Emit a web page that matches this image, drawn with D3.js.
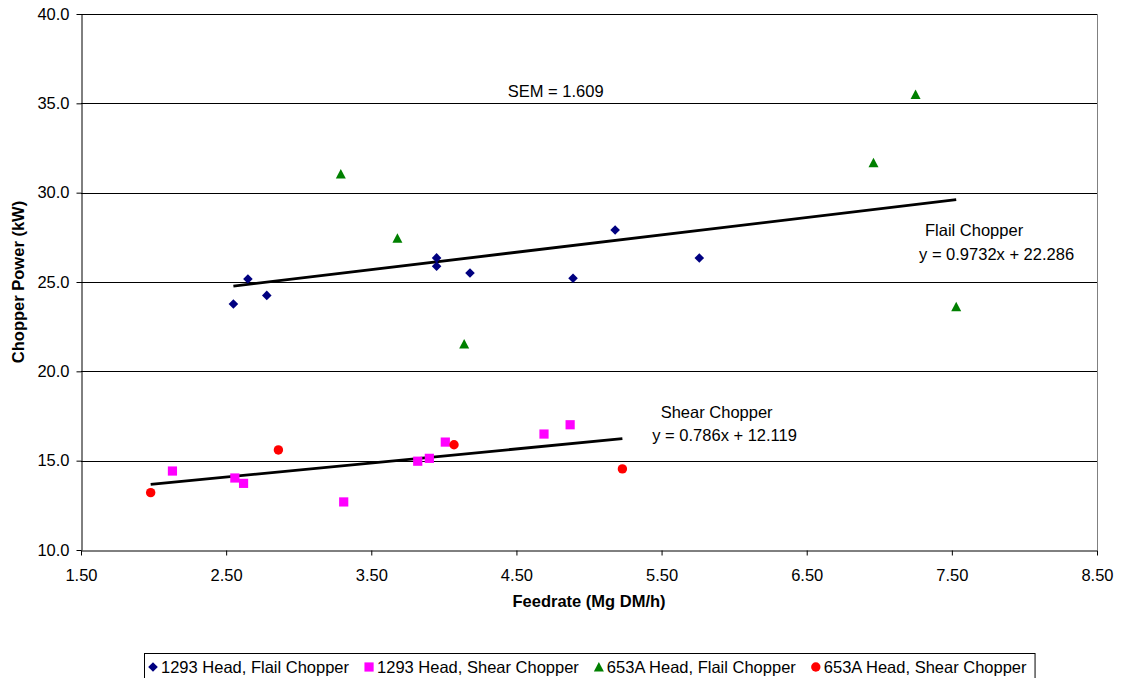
<!DOCTYPE html>
<html>
<head>
<meta charset="utf-8">
<script src="https://cdn.jsdelivr.net/npm/d3@7"></script>
<style>
	body { margin: 0; background: #fff; }
	svg { display: block; font-family: "Liberation Sans", Arial, sans-serif; }
	.axis text { font-size: 16.5px; fill: #000; }
	.axis path, .axis line { stroke: #000; }
</style>
</head>
<body>
<div id="chart"></div>
<script>
// values: [feedrate, power]
let head1293Flail = [[2.55, 23.77], [2.65, 25.17], [2.78, 24.25], [3.95, 26.35], [3.95, 25.88], [4.18, 25.5], [4.89, 25.21], [5.18, 27.91], [5.76, 26.34]];
let head1293Shear = [[2.13, 14.42], [2.56, 14.03], [2.62, 13.73], [3.31, 12.69], [3.82, 14.97], [3.9, 15.13], [4.01, 16.04], [4.69, 16.49], [4.87, 17.01]];
let head653AFlail = [[3.29, 31.05], [3.68, 27.45], [4.14, 21.53], [6.96, 31.68], [7.25, 35.5], [7.53, 23.62]];
let head653AShear = [[1.98, 13.21], [2.86, 15.6], [4.07, 15.89], [5.23, 14.54]];

let seriesNames = ["1293 Head, Flail Chopper", "1293 Head, Shear Chopper", "653A Head, Flail Chopper", "653A Head, Shear Chopper"];
let seriesColors = ["#000080", "#ff00ff", "#008000", "#ff0000"];
let seriesShapes = ["diamond", "square", "triangle", "circle"];

let xTicks = [1.5, 2.5, 3.5, 4.5, 5.5, 6.5, 7.5, 8.5];
let yTicks = [10, 15, 20, 25, 30, 35, 40];

// trend line coefficients as printed on the chart
let flailFit = { slope: 0.9732, intercept: 22.286 };
let shearFit = { slope: 0.786, intercept: 12.119 };

// [x, y, text] in data units
let annotations = [
	[4.44, 35.35, "SEM = 1.609"],
	[7.315, 27.57, "Flail Chopper"],
	[7.274, 26.23, "y = 0.9732x + 22.286"],
	[5.494, 17.37, "Shear Chopper"],
	[5.436, 16.12, "y = 0.786x + 12.119"],
];

window.addEventListener("DOMContentLoaded", (event) => {
	let width = 1124,
		height = 678;
	let margin = { top: 14, right: 27, bottom: 128, left: 81 };
	let fontSize = "16.5px";

	let svg = d3.select("#chart").append("svg").attr("width", width).attr("height", height);

	let x = d3
		.scaleLinear()
		.domain([1.5, 8.5])
		.range([margin.left, width - margin.right]);
	let y = d3
		.scaleLinear()
		.domain([10, 40])
		.range([height - margin.bottom, margin.top]);

	// gridlines
	svg
		.append("g")
		.selectAll("line")
		.data(yTicks.slice(1))
		.enter()
		.append("line")
		.attr("x1", x(1.5))
		.attr("x2", x(8.5))
		.attr("y1", (d) => Math.round(y(d)) + 0.5)
		.attr("y2", (d) => Math.round(y(d)) + 0.5)
		.attr("stroke", "#000")
		.attr("stroke-width", 1);

	// plot area right border
	svg
		.append("line")
		.attr("x1", Math.round(x(8.5)) + 0.5)
		.attr("x2", Math.round(x(8.5)) + 0.5)
		.attr("y1", y(40))
		.attr("y2", y(10))
		.attr("stroke", "#808080");

	let xAxis = d3.axisBottom(x).tickValues(xTicks).tickSize(5).tickPadding(14).tickSizeOuter(0).tickFormat(d3.format(".2f"));
	let yAxis = d3.axisLeft(y).tickValues(yTicks).tickSize(5).tickPadding(7).tickSizeOuter(0).tickFormat(d3.format(".1f"));

	svg
		.append("g")
		.attr("class", "axis")
		.attr("transform", "translate(0," + (Math.round(y(10)) + 0.5) + ")")
		.call(xAxis);
	svg
		.append("g")
		.attr("class", "axis")
		.attr("transform", "translate(" + (Math.round(x(1.5)) + 0.5) + ",0)")
		.call(yAxis);

	// axis titles
	svg
		.append("text")
		.attr("x", x(5))
		.attr("y", 607)
		.attr("text-anchor", "middle")
		.attr("font-size", fontSize)
		.attr("font-weight", "bold")
		.text("Feedrate (Mg DM/h)");
	svg
		.append("text")
		.attr("transform", "translate(24," + y(25) + ") rotate(-90)")
		.attr("text-anchor", "middle")
		.attr("font-size", fontSize)
		.attr("font-weight", "bold")
		.text("Chopper Power (kW)");

	// trend lines over the x span of each chopper's points
	let fits = [
		{ fit: flailFit, points: head1293Flail.concat(head653AFlail) },
		{ fit: shearFit, points: head1293Shear.concat(head653AShear) },
	];
	fits.forEach((f) => {
		let ext = d3.extent(f.points, (d) => d[0]);
		svg
			.append("path")
			.datum(ext.map((v) => [v, f.fit.slope * v + f.fit.intercept]))
			.attr("d", d3.line().x((d) => x(d[0])).y((d) => y(d[1])))
			.attr("stroke", "#000")
			.attr("stroke-width", 2.8)
			.attr("fill", "none");
	});

	// points
	let allSeries = [head1293Flail, head1293Shear, head653AFlail, head653AShear];
	allSeries.forEach((data, i) => {
		svg
			.append("g")
			.selectAll("path")
			.data(data)
			.enter()
			.append("path")
			.attr("d", markerPath(seriesShapes[i]))
			.attr("transform", (d) => "translate(" + x(d[0]) + "," + y(d[1]) + ")")
			.attr("fill", seriesColors[i]);
	});

	// annotations
	svg
		.append("g")
		.selectAll("text")
		.data(annotations)
		.enter()
		.append("text")
		.attr("x", (d) => x(d[0]))
		.attr("y", (d) => y(d[1]))
		.attr("font-size", fontSize)
		.text((d) => d[2]);

	// legend
	let legend = svg.append("g");
	let box = legend.append("rect").attr("fill", "#fff").attr("stroke", "#000").attr("stroke-width", 1);
	let cursor = 0;
	seriesNames.forEach((name, i) => {
		cursor += 9;
		legend
			.append("path")
			.attr("d", markerPath(seriesShapes[i]))
			.attr("transform", "translate(" + cursor + ",0)")
			.attr("fill", seriesColors[i]);
		let t = legend
			.append("text")
			.attr("x", cursor + 8)
			.attr("y", 5.5)
			.attr("font-size", fontSize)
			.text(name);
		cursor += 8 + t.node().getComputedTextLength() + 11;
	});
	let legendWidth = cursor - 3;
	box.attr("x", 0.5).attr("y", -13.5).attr("width", legendWidth).attr("height", 40);
	legend.attr("transform", "translate(" + Math.round(589 - legendWidth / 2) + ",667)");

	function markerPath(shape) {
		let p = d3.path();
		if (shape == "diamond") {
			p.moveTo(0, -4.8);
			p.lineTo(4.8, 0);
			p.lineTo(0, 4.8);
			p.lineTo(-4.8, 0);
		} else if (shape == "square") {
			p.rect(-4.6, -4.6, 9.2, 9.2);
		} else if (shape == "triangle") {
			p.moveTo(0, -5);
			p.lineTo(5, 4.5);
			p.lineTo(-5, 4.5);
		} else {
			p.arc(0, 0, 4.7, 0, 2 * Math.PI);
		}
		p.closePath();
		return p.toString();
	}
});
</script>
</body>
</html>
